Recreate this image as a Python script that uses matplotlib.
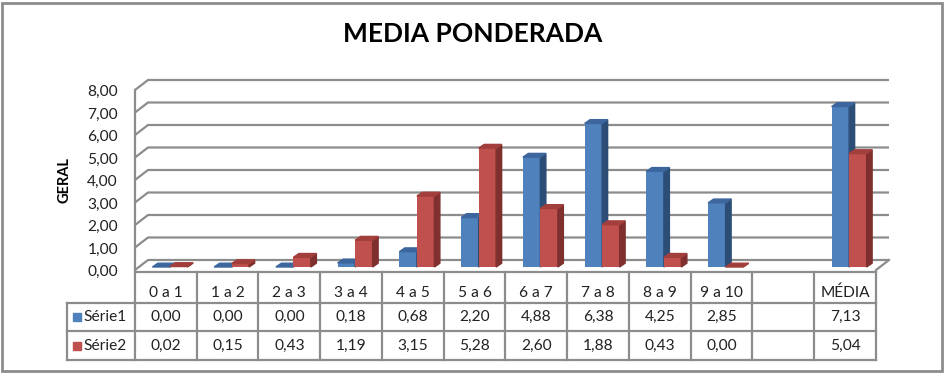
import matplotlib.pyplot as plt
from matplotlib.patches import Polygon, Rectangle
import numpy as np

# dados
categorias = ['0 a 1', '1 a 2', '2 a 3', '3 a 4', '4 a 5', '5 a 6', '6 a 7',
              '7 a 8', '8 a 9', '9 a 10', '', 'MÉDIA']
serie1 = [0.00, 0.00, 0.00, 0.18, 0.68, 2.20, 4.88, 6.38, 4.25, 2.85, None, 7.13]
serie2 = [0.02, 0.15, 0.43, 1.19, 3.15, 5.28, 2.60, 1.88, 0.43, 0.00, None, 5.04]
nomes = ['Série1', 'Série2']
yticks = [0, 1, 2, 3, 4, 5, 6, 7, 8]

plt.rcParams['font.family'] = ['Lato', 'DejaVu Sans']

W, H = 945, 374
fig = plt.figure(figsize=(W / 100, H / 100), dpi=100)

# eixo: x 0..12 -> px 135..876, y 0..8 -> px 270..90
x0, x1, ytop, ybot = 135, 876, 90, 270
ax = fig.add_axes([x0 / W, (H - ybot) / H, (x1 - x0) / W, (ybot - ytop) / H])
n = len(categorias)
ax.set_xlim(0, n)
ax.set_ylim(0, 8)
ax.axis('off')

px_x = n / (x1 - x0)      # unidades x por pixel
px_y = 8 / (ybot - ytop)  # unidades y por pixel

cinza = '#8c8c8c'
txt = '#222222'
fs = 11.2
# profundidade da parede
dx, dy = 13 * px_x, 10 * px_y

# grade da parede de fundo e lateral
for t in yticks:
    ax.plot([0, dx, n + dx], [t, t + dy, t + dy], color=cinza, lw=1.6,
            clip_on=False, solid_capstyle='butt', zorder=1)
    ax.text(-17 * px_x, t - 2 * px_y, f'{t:.2f}'.replace('.', ','), ha='right',
            va='center', fontsize=fs, color=txt)
ax.plot([0, 0], [0, 8], color=cinza, lw=1.6, clip_on=False, zorder=1)
ax.plot([n, n + dx], [0, dy], color=cinza, lw=1.6, clip_on=False, zorder=1)

ax.text(-70 * px_x, 4, 'GERAL', rotation=90, ha='center', va='center',
        fontsize=10.5, fontweight='bold')

# barras 3D
bw = 17.5 * px_x
sx, sy = 4 * px_x, 3 * px_y        # deslocamento do plano das barras
bdx, bdy = 5.5 * px_x, 3.8 * px_y   # profundidade das barras
cores = [('#4f81bd', '#2c4d76', '#3d669e'), ('#c0504d', '#7f2f2d', '#a23f3c')]

for i in range(n):
    for k, serie in enumerate([serie1, serie2]):
        v = serie[i]
        if v is None:
            continue
        frente, lado, topo = cores[k]
        left = i + 0.5 - bw + k * bw + sx
        b = sy
        ax.bar(left, v, width=bw, bottom=b, align='edge', color=frente,
               clip_on=False, zorder=3 + i)
        ax.add_patch(Polygon([(left + bw, b), (left + bw + bdx, b + bdy),
                              (left + bw + bdx, b + v + bdy), (left + bw, b + v)],
                             closed=True, color=lado, clip_on=False, zorder=3 + i))
        ax.add_patch(Polygon([(left, b + v), (left + bdx, b + v + bdy),
                              (left + bw + bdx, b + v + bdy), (left + bw, b + v)],
                             closed=True, color=topo, clip_on=False, zorder=3 + i))

# tabela de dados
r0 = -2 * px_y
r1 = -33 * px_y
r2 = -61 * px_y
r3 = -90 * px_y
xl = -68 * px_x
lw_t = 1.6
ax.plot([0, n], [r0, r0], color=cinza, lw=lw_t, clip_on=False)
for r in [r1, r2, r3]:
    ax.plot([xl, n], [r, r], color=cinza, lw=lw_t, clip_on=False)
for i in range(n + 1):
    ax.plot([i, i], [r0, r3], color=cinza, lw=lw_t, clip_on=False)
ax.plot([xl, xl], [r1, r3], color=cinza, lw=lw_t, clip_on=False)

for i, c in enumerate(categorias):
    ax.text(i + 0.5, -23 * px_y, c, ha='center', va='center', fontsize=fs,
            color=txt)
for k, serie in enumerate([serie1, serie2]):
    yc = [(r1 + r2) / 2, (r2 + r3) / 2][k]
    for i, v in enumerate(serie):
        if v is None:
            continue
        ax.text(i + 0.5, yc, f'{v:.2f}'.replace('.', ','), ha='center', va='center',
                fontsize=fs, color=txt)
    ax.add_patch(Rectangle((xl + 6 * px_x, yc - 4 * px_y), 8 * px_x, 8 * px_y,
                           color=cores[k][0], clip_on=False))
    ax.text(xl + 16 * px_x, yc, nomes[k], ha='left', va='center', fontsize=fs,
            color=txt)

fig.text(473 / W, 1 - 34 / H, 'MEDIA PONDERADA', ha='center', va='center',
         fontsize=19, fontweight='bold')

fig.patches.append(Rectangle((2 / W, 3 / H), 940 / W, 368 / H, transform=fig.transFigure,
                             fill=False, edgecolor='#8c8c8c', lw=2))

fig.savefig('out.png', dpi=100)
